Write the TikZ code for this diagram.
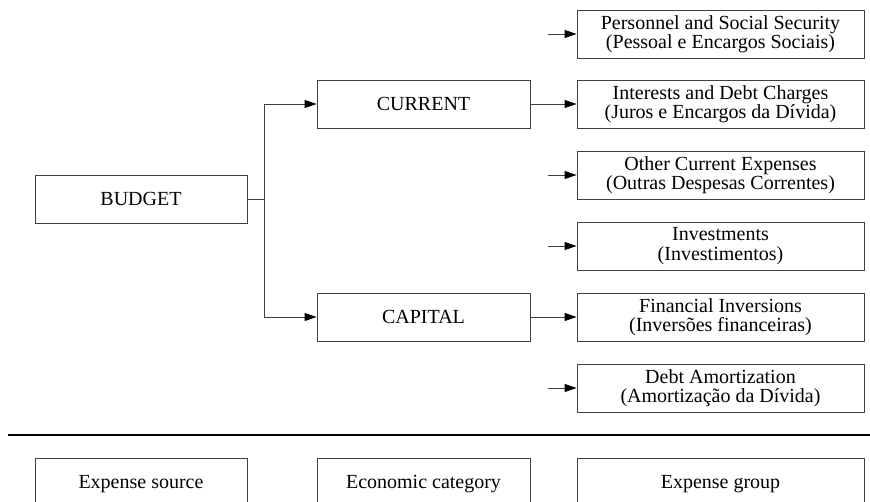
\documentclass[tikz,border=0pt]{standalone}
\usepackage{fontspec}
\setmainfont{Liberation Serif}
\usetikzlibrary{arrows.meta}
\begin{document}
\begin{tikzpicture}[x=1pt,y=-1pt,
  box/.style={draw=black!75, line width=0.9pt, minimum height=48pt, inner sep=0pt, align=center,
    font=\fontsize{20}{19.5}\selectfont},
  lbox/.style={box, minimum width=212pt},
  mbox/.style={box, minimum width=213pt},
  rbox/.style={box, minimum width=287pt},
  txt/.style={inner sep=0pt, font=\fontsize{20}{19.5}\selectfont},
  conn/.style={draw=black!75, line width=0.9pt},
  arr/.style={conn, -{Triangle[length=12pt,width=8pt,color=black]}},
  sep/.style={draw=black, line width=2.4pt}
]
\useasboundingbox (0,0) rectangle (870,501);
\clip (0,0) rectangle (870,501);

% level boxes
\node[lbox] (budget) at (141,199) {BUDGET};
\node[mbox] (current) at (423.5,104) {CURRENT};
\node[mbox] (capital) at (423.5,317) {CAPITAL};

\node[rbox] (pers) at (720.5,34) {Personnel and Social Security\\(Pessoal e Encargos Sociais)};
\node[rbox] (inter) at (720.5,104) {Interests and Debt Charges\\(Juros e Encargos da Dívida)};
\node[rbox] (other) at (720.5,175) {Other Current Expenses\\(Outras Despesas Correntes)};
\node[rbox] (invest) at (720.5,246) {Investments\\(Investimentos)};
\node[rbox] (fin) at (720.5,317) {Financial Inversions\\(Inversões financeiras)};
\node[rbox] (debt) at (720.5,388) {Debt Amortization\\(Amortização da Dívida)};

% connectors
\coordinate (fork) at (264,199);
\draw[conn] (budget.east) -- (fork);
\draw[arr] (fork) |- (current.west);
\draw[arr] (fork) |- (capital.west);
\draw[arr] (current.east) -- (inter.west);
\draw[arr] (capital.east) -- (fin.west);

\coordinate (s1) at (548,34);
\coordinate (s3) at (548,175);
\coordinate (s4) at (548,246);
\coordinate (s6) at (548,388);
\draw[arr] (s1) -- (pers.west);
\draw[arr] (s3) -- (other.west);
\draw[arr] (s4) -- (invest.west);
\draw[arr] (s6) -- (debt.west);

% separator
\draw[sep] (8,435) -- (870,435);

% legend boxes
\node[lbox, minimum height=70pt, anchor=north] (src) at (141,458) {};
\node[mbox, minimum height=70pt, anchor=north] (eco) at (423.5,458) {};
\node[rbox, minimum height=70pt, anchor=north] (grp) at (720.5,458) {};
\node[txt, anchor=base] (srct) at (141,488) {Expense source};
\node[txt, anchor=base] (ecot) at (423.5,488) {Economic category};
\node[txt, anchor=base] (grpt) at (720.5,488) {Expense group};
\end{tikzpicture}
\end{document}
